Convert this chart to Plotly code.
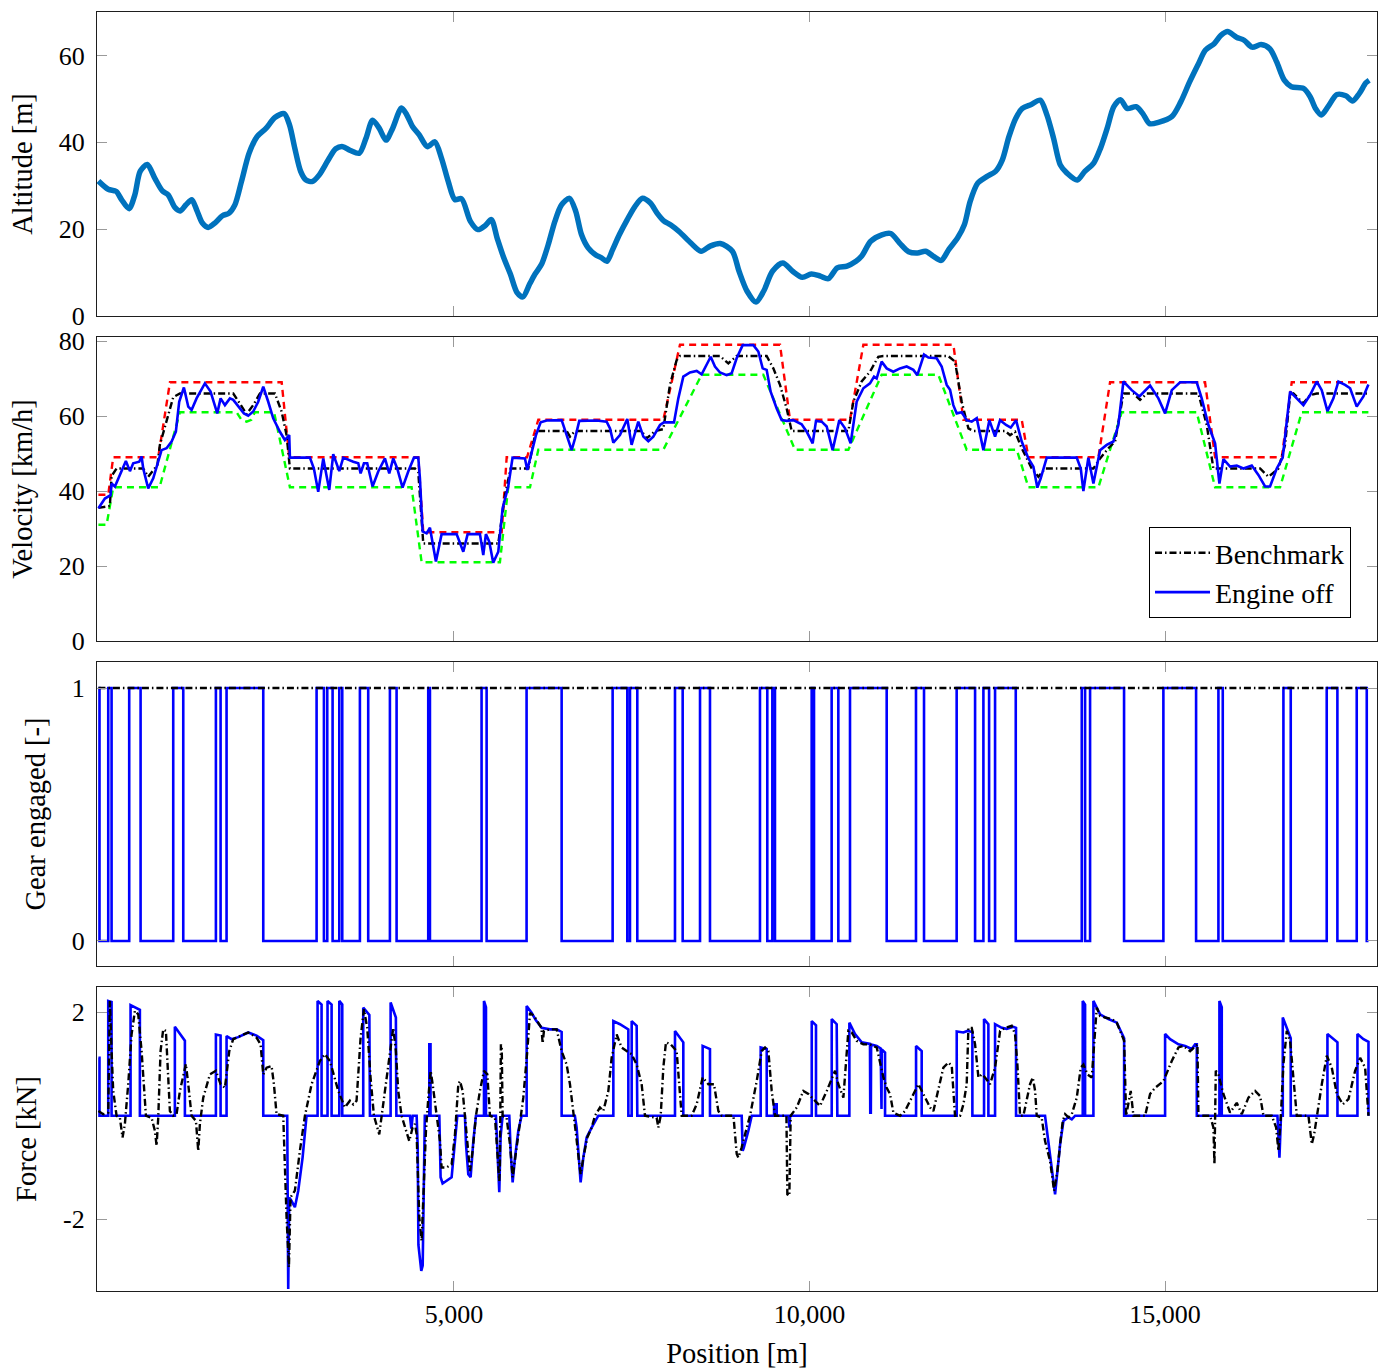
import plotly.graph_objects as go

# ---------------- data ----------------
# Road altitude profile
alt_pos = [0, 137, 250, 325, 431, 512, 587, 687, 794, 900, 981, 1075, 1150, 1231, 1312, 1387, 1462,
           1544, 1637, 1744, 1837, 1919, 2012, 2119, 2231, 2356, 2481, 2612, 2687, 2762, 2844, 2919,
           3012, 3106, 3231, 3337, 3437, 3544, 3669, 3762, 3856, 3950, 4044, 4137, 4262, 4337, 4419,
           4512, 4625, 4731, 4825, 4919, 5012, 5106, 5231, 5337, 5437, 5525, 5606, 5700, 5794, 5887,
           5969, 6062, 6137, 6231, 6325, 6419, 6512, 6625, 6712, 6794, 6887, 7000, 7075, 7150, 7231,
           7325, 7437, 7544, 7650, 7762, 7856, 7950, 8044, 8169, 8331, 8475, 8601, 8745, 8915, 9009,
           9122, 9247, 9354, 9479, 9624, 9762, 9900, 10025, 10151, 10264, 10389, 10527, 10653, 10734,
           10860, 11016, 11142, 11267, 11393, 11518, 11631, 11738, 11851, 11957, 12083, 12177, 12259,
           12365, 12491, 12616, 12710, 12804, 12899, 12993, 13118, 13244, 13338, 13432, 13526, 13620,
           13764, 13871, 13996, 14091, 14185, 14279, 14373, 14467, 14593, 14687, 14781, 14906, 15094,
           15220, 15345, 15470, 15565, 15690, 15784, 15879, 16004, 16111, 16224, 16349, 16475, 16569,
           16676, 16776, 16946, 17040, 17115, 17197, 17291, 17417, 17542, 17636, 17730, 17824, 17870]
alt_m = [31.1, 29.2, 28.7, 26.8, 24.7, 27.9, 33.3, 34.9, 31.7, 28.8, 27.9, 25.0, 24.2, 25.6, 26.8, 24.2,
         21.4, 20.4, 21.4, 23.1, 23.7, 25.6, 31.0, 37.5, 41.3, 43.2, 45.7, 46.6, 44.0, 38.6, 33.3, 31.3,
         31.0, 32.5, 35.9, 38.5, 39.0, 38.1, 37.5, 40.9, 45.1, 43.2, 40.5, 43.2, 47.9, 46.3, 43.6, 41.7,
         39.0, 40.1, 36.3, 31.0, 26.8, 27.0, 21.8, 19.9, 20.8, 22.2, 18.0, 13.4, 9.6, 5.4, 4.4, 7.3, 9.6,
         11.9, 16.4, 21.8, 25.6, 27.1, 24.1, 18.7, 15.7, 14.0, 13.4, 12.6, 15.3, 18.7, 22.2, 25.2, 27.1,
         26.0, 23.7, 21.9, 21.0, 19.4, 16.8, 14.9, 16.1, 16.7, 14.9, 10.3, 5.7, 3.2, 5.7, 10.3, 12.2,
         10.3, 8.9, 9.7, 9.2, 8.6, 11.1, 11.5, 12.6, 13.8, 17.2, 18.7, 19.0, 16.8, 14.8, 14.5, 14.9,
         13.8, 12.8, 15.3, 18.0, 21.0, 26.4, 30.6, 32.1, 33.3, 35.9, 41.3, 45.5, 47.8, 48.7, 49.7, 46.3,
         40.9, 34.8, 32.9, 31.3, 33.3, 35.2, 38.6, 43.2, 48.2, 49.8, 47.8, 48.2, 46.6, 44.3, 44.6, 45.9,
         49.3, 53.9, 58.1, 61.2, 62.7, 64.6, 65.5, 64.2, 63.5, 61.9, 62.5, 61.5, 58.5, 54.3, 52.8, 52.4,
         50.5, 47.8, 46.3, 48.2, 51.0, 50.7, 49.5, 51.2, 53.7, 54.3]

# Velocity limits: upper (red) and lower (green) bounds
vmax_pos = [0, 138, 208, 841, 1006, 2577, 2684, 4498, 4568, 5671, 5741, 6027, 6186, 7944, 8178, 9585,
            9725, 10569, 10757, 12023, 12164, 12984, 13078, 14062, 14226, 15562, 15703, 16641, 16781, 17859]
vmax_kmh = [39, 39, 49, 49, 69, 69, 49, 49, 29, 29, 49, 49, 59, 59, 79, 79,
            59, 59, 79, 79, 59, 59, 49, 49, 69, 69, 49, 49, 69, 69]
vmin_pos = [0, 115, 208, 860, 1146, 1944, 2010, 2084, 2150, 2200, 2470, 2693, 4404, 4545, 5646, 5763,
            6069, 6186, 7944, 8483, 9350, 9796, 10546, 11014, 11811, 12210, 12914, 13078, 14062,
            14390, 15445, 15703, 16617, 16922, 17859]
vmin_kmh = [31, 31, 41, 41, 61, 61, 59, 58.5, 59, 61, 61, 41, 41, 21, 21, 41,
            41, 51, 51, 71, 71, 51, 51, 71, 71, 51, 51, 41, 41,
            61, 61, 41, 41, 61, 61]

# Benchmark velocity
bench_pos = [0, 161, 185, 255, 630, 700, 790, 830, 864, 958, 1052, 1146, 1896, 2000, 2084, 2180, 2271,
             2482, 2576, 2646, 2693, 4451, 4498, 4568, 5623, 5717, 5797, 6045, 6139, 6186, 6584, 6631,
             6702, 7639, 7709, 7827, 7944, 8037, 8131, 8178, 8741, 8858, 8975, 9397, 9491, 9585, 9678,
             9749, 10546, 10616, 10733, 10850, 10967, 11038, 11950, 12046, 12140, 12234, 12304, 12750,
             12820, 12890, 12984, 13125, 13218, 13312, 13992, 14086, 14203, 14297, 14367, 14414, 14554,
             14648, 14742, 15468, 15586, 15679, 16336, 16453, 16594, 16687, 16758, 16805, 16945, 17039,
             17133, 17859]
bench_kmh = [35.5, 36, 44, 46, 46, 43.8, 46, 47, 52.3, 58.5, 65, 66, 66, 63, 60.5, 63, 66,
             66, 61.2, 54.9, 46, 46, 45, 26, 26, 38.9, 46, 46, 54.9, 56, 56, 54.5,
             56, 56, 54, 56, 56.5, 68.3, 74.9, 76, 76, 74, 76, 76, 72.7, 68.3, 62,
             56, 56, 63.8, 69.2, 71.8, 75.8, 76, 76, 74.5, 63.8, 56.7, 56, 56,
             54.9, 55.8, 51.4, 46, 43.8, 46, 46, 48.7, 51.4, 53.2, 61.2, 66, 66,
             64.3, 66, 66, 57.6, 46, 46, 43.8, 46, 52.3, 65.6, 66, 63.4, 65.6,
             66, 66]

# Engine-off strategy velocity
eoff_pos = [0, 91, 171, 185, 232, 302, 386, 443, 489, 574, 607, 630, 700, 771, 841, 888, 958, 1029,
            1089, 1136, 1202, 1263, 1310, 1380, 1497, 1577, 1671, 1718, 1779, 1849, 1896, 1966, 2046,
            2107, 2177, 2247, 2318, 2388, 2458, 2552, 2622, 2683, 2693, 2974, 3030, 3091, 3162, 3246,
            3302, 3387, 3443, 3584, 3654, 3687, 3734, 3780, 3855, 3935, 4029, 4090, 4146, 4202, 4277,
            4357, 4437, 4498, 4521, 4559, 4615, 4662, 4746, 4826, 5037, 5131, 5192, 5365, 5412, 5449,
            5496, 5552, 5623, 5684, 5763, 5824, 5998, 6031, 6092, 6153, 6219, 6303, 6514, 6584, 6655,
            6702, 6762, 7006, 7147, 7194, 7241, 7334, 7437, 7498, 7592, 7663, 7733, 7803, 7897, 7953,
            8094, 8155, 8225, 8319, 8413, 8483, 8553, 8610, 8670, 8741, 8835, 8905, 8975, 9060, 9210,
            9280, 9341, 9397, 9453, 9538, 9608, 9678, 9772, 9889, 9960, 10044, 10091, 10171, 10241,
            10325, 10419, 10499, 10578, 10663, 10757, 10850, 10907, 10944, 11014, 11085, 11178, 11272,
            11366, 11460, 11516, 11610, 11671, 11788, 11858, 11929, 11976, 12022, 12070, 12140, 12210,
            12281, 12351, 12445, 12529, 12609, 12679, 12764, 12829, 12904, 12984, 13078, 13148, 13204,
            13251, 13336, 13757, 13814, 13851, 13921, 13992, 14086, 14179, 14273, 14343, 14414, 14531,
            14639, 14789, 14906, 15000, 15094, 15211, 15445, 15515, 15609, 15703, 15764, 15820, 15914,
            16008, 16101, 16219, 16312, 16406, 16476, 16570, 16654, 16758, 16852, 16945, 17039, 17133,
            17203, 17283, 17367, 17437, 17531, 17602, 17695, 17789, 17859]
eoff_kmh = [35.4, 38.0, 38.9, 42.0, 41.2, 44.3, 48.0, 45.3, 47.4, 47.8, 49.2, 46.0, 40.7, 43.4, 47.8,
            50.9, 51.4, 53.2, 55.8, 63.8, 67.6, 62.5, 61.6, 64.7, 68.7, 66.5, 60.7, 64.7, 62.9, 64.7,
            64.3, 62.5, 60.7, 60.1, 61.2, 63.8, 67.8, 63.8, 59.4, 55.8, 53.6, 54.9, 48.9, 48.9, 46.0,
            39.8, 48.7, 40.3, 49.8, 45.3, 48.9, 47.8, 47.4, 44.7, 47.4, 47.4, 41.2, 45.2, 48.7, 44.7,
            48.7, 46.0, 40.9, 45.2, 48.9, 48.9, 43.4, 29.2, 28.7, 30.2, 21.2, 28.5, 28.5, 23.8, 28.5,
            28.5, 22.9, 28.5, 26.5, 20.9, 23.8, 35.4, 41.2, 48.9, 48.7, 45.6, 50.0, 54.9, 58.3, 58.8,
            58.9, 54.9, 50.9, 54.0, 58.7, 58.8, 58.5, 56.7, 52.9, 54.9, 59.2, 52.3, 58.5, 54.5, 53.3,
            54.5, 57.6, 58.3, 58.3, 64.7, 70.5, 71.6, 72.0, 71.1, 73.6, 75.8, 73.2, 71.6, 70.9, 71.4,
            75.4, 78.9, 78.9, 77.2, 72.7, 72.3, 66.5, 62.0, 58.9, 58.7, 58.9, 57.8, 55.8, 52.7, 58.7,
            58.5, 57.2, 50.9, 58.9, 56.7, 52.7, 63.8, 67.4, 68.7, 70.5, 70.0, 74.5, 72.7, 71.8, 72.7,
            73.2, 72.3, 70.9, 76.4, 75.6, 75.4, 73.2, 68.3, 67.0, 62.9, 60.7, 61.0, 58.9, 58.5, 59.4,
            50.9, 58.9, 54.5, 58.9, 57.6, 56.9, 58.9, 53.2, 48.7, 46.5, 40.9, 43.4, 48.9, 48.9, 46.0,
            40.0, 48.9, 42.0, 50.9, 52.3, 53.2, 57.6, 69.2, 66.9, 65.2, 68.1, 64.7, 60.7, 66.9, 69.0,
            69.0, 64.7, 57.6, 52.7, 42.0, 48.5, 46.5, 46.8, 46.0, 46.8, 44.3, 41.2, 41.2, 46.0, 48.9,
            66.5, 64.7, 62.9, 65.6, 69.2, 66.9, 61.3, 64.7, 69.2, 68.3, 67.4, 62.5, 65.2, 68.4]

# Gear engaged intervals for the engine-off strategy [m]
gear_on_start = [0, 138, 433, 1052, 1652, 1802, 3068, 3218, 3387, 3677, 4099, 4638, 5388, 6021, 7231,
                 7475, 8108, 8460, 9303, 9477, 10030, 10311, 10569, 11497, 12069, 12445, 12609, 13828,
                 13945, 14976, 15750, 16664, 17273, 17695]
gear_on_end = [15, 185, 593, 1193, 1718, 2318, 3171, 3293, 3429, 3794, 4193, 4662, 5459, 6514, 7437,
               7578, 8216, 8600, 9406, 9514, 10063, 10405, 11085, 11610, 12328, 12525, 12900, 13875,
               14423, 15436, 15811, 16767, 17423, 17836]
route_end = 17860

# Traction / braking force
fbench_pos = [0, 68, 138, 161, 185, 208, 255, 302, 339, 372, 419, 466, 513, 560, 607, 640, 668, 747, 794,
              818, 841, 874, 911, 949, 982, 1005, 1052, 1099, 1146, 1230, 1263, 1310, 1371, 1404, 1427,
              1474, 1568, 1652, 1718, 1779, 1840, 1896, 1990, 2107, 2224, 2280, 2318, 2365, 2435, 2468,
              2505, 2599, 2646, 2679, 2702, 2763, 2833, 2904, 2998, 3115, 3185, 3255, 3373, 3466, 3537,
              3584, 3630, 3687, 3734, 3780, 3827, 3874, 3949, 4005, 4076, 4146, 4183, 4216, 4263, 4324,
              4371, 4418, 4451, 4475, 4512, 4545, 4578, 4606, 4639, 4672, 4700, 4756, 4803, 4826, 4897,
              4967, 5014, 5061, 5084, 5122, 5154, 5187, 5225, 5262, 5309, 5365, 5422, 5469, 5506, 5577,
              5609, 5637, 5645, 5660, 5672, 5684, 5740, 5787, 5825, 5872, 5928, 5975, 6031, 6069, 6125,
              6186, 6230, 6247, 6265, 6350, 6444, 6514, 6584, 6631, 6678, 6716, 6763, 6781, 6819, 6875,
              6936, 6983, 7053, 7100, 7171, 7217, 7288, 7358, 7428, 7499, 7569, 7639, 7686, 7850, 7874,
              7907, 7944, 7981, 8047, 8131, 8202, 8342, 8413, 8497, 8577, 8656, 8718, 8765, 8930, 8976,
              8999, 9046, 9093, 9163, 9257, 9327, 9374, 9421, 9468, 9515, 9675, 9688, 9716, 9735, 9820,
              9913, 9984, 10077, 10148, 10242, 10359, 10405, 10476, 10546, 10593, 10663, 10757, 10851,
              10945, 11039, 11085, 11132, 11179, 11273, 11343, 11437, 11531, 11601, 11695, 11742, 11812,
              11882, 11953, 12000, 12046, 12117, 12164, 12210, 12234, 12281, 12328, 12375, 12422, 12468,
              12539, 12609, 12680, 12750, 12843, 12890, 12923, 12961, 13007, 13101, 13139, 13172, 13195,
              13265, 13312, 13382, 13439, 13486, 13524, 13561, 13594, 13641, 13688, 13758, 13814, 13852,
              13908, 13969, 14039, 14086, 14156, 14250, 14321, 14391, 14424, 14452, 14485, 14517, 14555,
              14719, 14789, 14860, 14977, 15094, 15188, 15258, 15352, 15422, 15455, 15469, 15633, 15680,
              15694, 15713, 15750, 15820, 15914, 16008, 16079, 16172, 16266, 16336, 16383, 16500, 16562,
              16594, 16627, 16664, 16711, 16758, 16805, 16852, 17016, 17063, 17096, 17133, 17204, 17274,
              17344, 17415, 17499, 17579, 17672, 17743, 17813, 17860]
fbench_kN = [0.09, 0.03, 0.06, 2.22, 1.25, 0.48, 0, -0.04, -0.42, -0.16, 0.61, 1.57, 2.03, 1.96, 1.25,
             0.48, 0, -0.04, -0.29, -0.58, -0.04, 1.25, 1.67, 1.64, 0.68, 0.09, 0, 0.03, 0.48, 1.0, 0.61,
             0, -0.10, -0.68, -0.16, 0.35, 0.80, 0.87, 0.61, 0.54, 1.25, 1.48, 1.54, 1.61, 1.51, 1.38,
             0.80, 0.93, 0.96, 0.61, 0.03, 0, -1.97, -2.93, -1.58, -1.45, -0.68, 0, 0.61, 1.06, 1.19,
             1.06, 0.48, 0.16, 0.29, 0.22, 0.29, 1.51, 2.06, 1.70, 0.74, 0, -0.36, 0.22, 1.0, 1.70, 1.25,
             0.48, 0, -0.29, -0.49, -0.23, -0.16, -0.36, -1.97, -2.42, -1.32, -0.29, 0.35, 0.87, 0.61, 0,
             -0.49, -1.0, -1.0, -0.94, -0.36, 0.61, 0.67, 0.48, -0.04, -0.55, -1.07, -0.68, 0, 0.48, 0.87,
             0.80, 0, -0.04, -0.68, -1.26, -1.0, 1.38, 1.3, 0, -0.04, -0.55, -1.19, -0.68, -0.16, 0.35,
             1.25, 1.99, 1.93, 1.80, 1.70, 1.40, 1.64, 1.67, 1.67, 1.25, 0.99, 0.61, 0, -0.36, -0.94,
             -1.13, -0.81, -0.42, -0.23, 0, 0.16, 0.09, 0.48, 1.12, 1.57, 1.32, 1.25, 1.19, 0.99, 0.61, 0,
             -0.04, -0.23, 0, 0.93, 1.42, 1.38, 1.25, 0, 0, 0.22, 0.74, 0.61, 0.61, 0.09, 0, 0, -0.74,
             -0.81, -0.61, -0.36, 0, 0.67, 1.25, 1.32, 1.25, 0.48, 0, 0, -1.52, -1.55, 0, 0.16, 0.48,
             0.42, 0.29, 0.19, 0.48, 0.87, 0.61, 0.35, 1.64, 1.61, 1.45, 1.38, 1.38, 1.32, 0.74, 0.54,
             0.42, 0.06, 0, 0.09, 0.35, 0.61, 0.42, 0.16, 0.09, 0.54, 0.93, 1.03, 0.96, 0, 0, 0.22, 0.61,
             1.70, 1.70, 1.38, 0.74, 0.80, 0.74, 0.61, 0.93, 1.64, 1.70, 1.74, 1.58, 0.99, 0, 0, 0.61,
             0.74, 0.48, 0, -0.04, -0.49, -0.87, -1.45, -1.07, -0.55, -0.1, 0.03, -0.03, 0.03, 0.35, 0.93,
             0.99, 0.80, 0.74, 2.09, 1.93, 1.90, 1.87, 1.80, 1.58, 1.45, 0, 0.22, 0.48, 0, 0, 0.42, 0.54,
             0.67, 1.06, 1.32, 1.35, 1.25, 1.35, 1.38, 0, 0, -0.23, -0.94, 0.87, 0.80, 0.42, 0.06, 0.25,
             0.03, 0.35, 0.48, 0.38, 0, 0, -0.23, -0.68, -0.03, 1.0, 1.64, 1.45, 0.74, 0, 0, -0.55, -0.36,
             0, 0.61, 1.16, 0.93, 0.42, 0.22, 0.32, 0.87, 1.12, 0.93, 0.0]

feoff_pos = [0, 15, 15, 138, 138, 185, 185, 452, 452, 583, 583, 1075, 1075, 1216, 1216, 1652, 1652, 1718,
             1718, 1802, 1802, 1872, 1966, 2107, 2224, 2294, 2318, 2318, 2655, 2669, 2683, 2716, 2763,
             2810, 2871, 2927, 3082, 3082, 3138, 3138, 3222, 3222, 3279, 3279, 3387, 3387, 3429, 3429,
             3724, 3724, 3810, 3818, 4109, 4109, 4183, 4190, 4381, 4400, 4420, 4475, 4490, 4500, 4540,
             4560, 4575, 4590, 4653, 4653, 4670, 4670, 4794, 4812, 4840, 4897, 4967, 5014, 5047, 5154,
             5169, 5201, 5234, 5272, 5309, 5422, 5422, 5450, 5450, 5590, 5609, 5637, 5656, 5684, 5778,
             5797, 5825, 5858, 5905, 5951, 6022, 6022, 6092, 6150, 6233, 6350, 6444, 6514, 6514, 6700,
             6725, 6763, 6781, 6819, 6866, 6936, 6983, 7030, 7241, 7241, 7334, 7452, 7452, 7499, 7499,
             7569, 7578, 8108, 8108, 8178, 8225, 8225, 8497, 8497, 8600, 8600, 9046, 9060, 9075, 9140,
             9187, 9313, 9313, 9398, 9398, 9501, 9501, 9538, 9538, 9705, 9716, 9728, 10031, 10031, 10091,
             10091, 10312, 10312, 10382, 10391, 10560, 10560, 10640, 10734, 10850, 10854, 10862, 10866,
             10945, 11000, 11004, 11012, 11016, 11062, 11062, 11498, 11498, 11577, 11577, 12070, 12070,
             12164, 12220, 12290, 12290, 12454, 12454, 12515, 12515, 12609, 12609, 12703, 12773, 12867,
             12904, 12904, 13312, 13382, 13453, 13477, 13524, 13571, 13641, 13688, 13735, 13842, 13842,
             13875, 13875, 13992, 13992, 14086, 14203, 14321, 14391, 14424, 14424, 15000, 15000, 15071,
             15188, 15282, 15375, 15422, 15446, 15446, 15764, 15764, 15797, 15797, 16580, 16608, 16630,
             16655, 16655, 16735, 16767, 16767, 17283, 17283, 17368, 17424, 17424, 17705, 17705, 17790,
             17860, 17860]
feoff_kN = [1.12, 1.12, 0, 0, 2.22, 2.2, 0, 0, 2.14, 2.05, 0, 0, 1.72, 1.45, 0, 0, 1.57, 1.55,
            0, 0, 1.54, 1.48, 1.52, 1.61, 1.55, 1.48, 1.46, 0, 0, -3.35, -1.58, -1.65, -1.77,
            -1.45, -0.81, 0, 0, 2.22, 2.15, 0, 0, 2.22, 2.15, 0, 0, 2.22, 2.15, 0,
            0, 2.09, 1.95, 0, 0, 2.19, 1.9, 0, 0, -0.25, 0, 0, -0.6, -2.5, -3.0,
            -2.9, -1.5, 0, 0, 1.38, 1.38, 0, 0, -1.19, -1.31, -1.26, -1.19, -0.49, 0, 0,
            -0.55, -1.13, -1.19, -0.49, 0, 0, 2.22, 2.1, 0, 0, -0.55, -1.48, -0.4, 0, 0,
            -0.68, -1.29, -0.81, -0.29, 0, 0, 2.12, 1.99, 1.85, 1.70, 1.67, 1.67, 1.62, 0, 0,
            -0.23, -0.94, -1.29, -0.81, -0.42, -0.23, -0.1, 0, 0, 1.83, 1.77, 1.67, 0, 0, 1.83,
            1.74, 0, 0, 1.64, 1.51, 1.42, 0, 0, 1.35, 1.29, 0, 0, -0.68, -0.62, -0.29,
            0, 0, 1.32, 1.29, 0, 0, 0.22, 0.22, 0, 0, -0.23, 0, 0, 1.83, 1.75,
            0, 0, 1.87, 1.77, 0, 0, 1.80, 1.58, 1.42, 1.39, 0.06, 0.06, 1.38,
            1.35, 1.30, 0.13, 0.13, 1.28, 1.22, 0, 0, 1.35, 1.25, 0, 0, 1.63,
            1.61, 1.64, 1.62, 0, 0, 1.87, 1.77, 0, 0, 1.77, 1.70, 1.68, 1.72,
            1.70, 0, 0, -0.81, -1.52, -1.19, -0.55, -0.1, -0.03, -0.07, 0, 0, 2.22,
            2.15, 0, 0, 2.22, 1.96, 1.87, 1.80, 1.58, 1.5, 0, 0, 1.58, 1.48,
            1.38, 1.35, 1.29, 1.38, 1.38, 0, 0, 2.22, 2.1, 0, 0, -0.81, 0,
            0, 1.9, 1.61, 1.5, 0, 0, 1.58, 1.48, 1.42, 0, 0, 1.58, 1.48,
            1.43, 0]

# ---------------- figure ----------------
FONT = "Liberation Serif"
BLUE = "#0000FF"
DASHDOT = "7px,3px,1.5px,3px"

# gear step series built from the engaged intervals
gear_x, gear_y = [], []
for a, b in zip(gear_on_start, gear_on_end):
    gear_x += [a, b]
    gear_y += [1, 0]
gear_x.append(route_end)
gear_y.append(0)

fig = go.Figure()

# panel 1: altitude
fig.add_trace(go.Scatter(x=alt_pos, y=alt_m, mode="lines", line=dict(color="#0072BD", width=5.5,
                         shape="spline", smoothing=0.8), showlegend=False, xaxis="x", yaxis="y"))

# panel 2: velocity
fig.add_trace(go.Scatter(x=vmax_pos, y=vmax_kmh, mode="lines", line=dict(color="#FF0000", width=2.4, dash="7px,5px"),
                         showlegend=False, xaxis="x2", yaxis="y2"))
fig.add_trace(go.Scatter(x=vmin_pos, y=vmin_kmh, mode="lines", line=dict(color="#00FF00", width=2.4, dash="7px,5px"),
                         showlegend=False, xaxis="x2", yaxis="y2"))
fig.add_trace(go.Scatter(x=bench_pos, y=bench_kmh, mode="lines", name="Benchmark",
                         line=dict(color="black", width=2.4, dash=DASHDOT), xaxis="x2", yaxis="y2"))
fig.add_trace(go.Scatter(x=eoff_pos, y=eoff_kmh, mode="lines", name="Engine off",
                         line=dict(color=BLUE, width=2.6), xaxis="x2", yaxis="y2"))

# panel 3: gear engaged
fig.add_trace(go.Scatter(x=gear_x, y=gear_y, mode="lines", line=dict(color=BLUE, width=2.6, shape="hv"),
                         showlegend=False, xaxis="x3", yaxis="y3"))
fig.add_trace(go.Scatter(x=[0, route_end], y=[1, 1], mode="lines", line=dict(color="black", width=2.4, dash=DASHDOT),
                         showlegend=False, xaxis="x3", yaxis="y3"))

# panel 4: force
fig.add_trace(go.Scatter(x=feoff_pos, y=feoff_kN, mode="lines", line=dict(color=BLUE, width=2.6),
                         showlegend=False, xaxis="x4", yaxis="y4"))
fig.add_trace(go.Scatter(x=fbench_pos, y=fbench_kN, mode="lines", line=dict(color="black", width=2.4, dash=DASHDOT),
                         showlegend=False, xaxis="x4", yaxis="y4"))

axis_common = dict(showline=True, mirror="ticks", linecolor="#1e1e1e", linewidth=1.3, ticks="inside",
                   tickcolor="#9a9a9a", ticklen=10, tickwidth=1, showgrid=False, zeroline=False,
                   ticklabelstandoff=6, tickfont=dict(family=FONT, size=26, color="black"))
title_font = dict(family=FONT, size=28.5, color="black")

domains = [[0.7623, 1.0], [0.5082, 0.7459], [0.2541, 0.4918], [0.0, 0.2377]]
xr = [-20, 17980]
layout = dict(width=1379, height=1371, margin=dict(l=97, r=2, t=12, b=80),
              plot_bgcolor="white", paper_bgcolor="white", font=dict(family=FONT, color="black"))

for i in range(4):
    sx = "" if i == 0 else str(i + 1)
    xa = dict(axis_common, domain=[0, 1], range=xr, anchor="y" + sx,
              tickvals=[5000, 10000, 15000], showticklabels=(i == 3))
    if i == 3:
        xa.update(ticktext=["5,000", "10,000", "15,000"], ticklabelstandoff=0,
                  title=dict(text="Position [m]", font=title_font, standoff=14))
    layout["xaxis" + sx] = xa

ystand = 17
layout["yaxis"] = dict(axis_common, domain=domains[0], anchor="x", range=[0, 70], tickvals=[0, 20, 40, 60],
                       title=dict(text="Altitude [m]", font=title_font, standoff=ystand))
layout["yaxis2"] = dict(axis_common, domain=domains[1], anchor="x2", range=[0, 81.07], tickvals=[0, 20, 40, 60, 80],
                        title=dict(text="Velocity [km/h]", font=title_font, standoff=ystand))
layout["yaxis3"] = dict(axis_common, domain=domains[2], anchor="x3", range=[-0.099, 1.103], tickvals=[0, 1],
                        title=dict(text="Gear engaged [-]", font=title_font, standoff=ystand))
layout["yaxis4"] = dict(axis_common, domain=domains[3], anchor="x4", range=[-3.39, 2.49], tickvals=[-2, 2],
                        ticktext=["-2", "2"], title=dict(text="Force [kN]", font=title_font, standoff=ystand))

layout["legend"] = dict(x=0.9797, xanchor="right", y=0.5973, yanchor="top", bgcolor="white",
                        bordercolor="black", borderwidth=1, font=dict(family=FONT, size=28, color="black"),
                        traceorder="normal", tracegroupgap=0, itemwidth=55)

fig.update_layout(**layout)
fig.write_html("out.html")
